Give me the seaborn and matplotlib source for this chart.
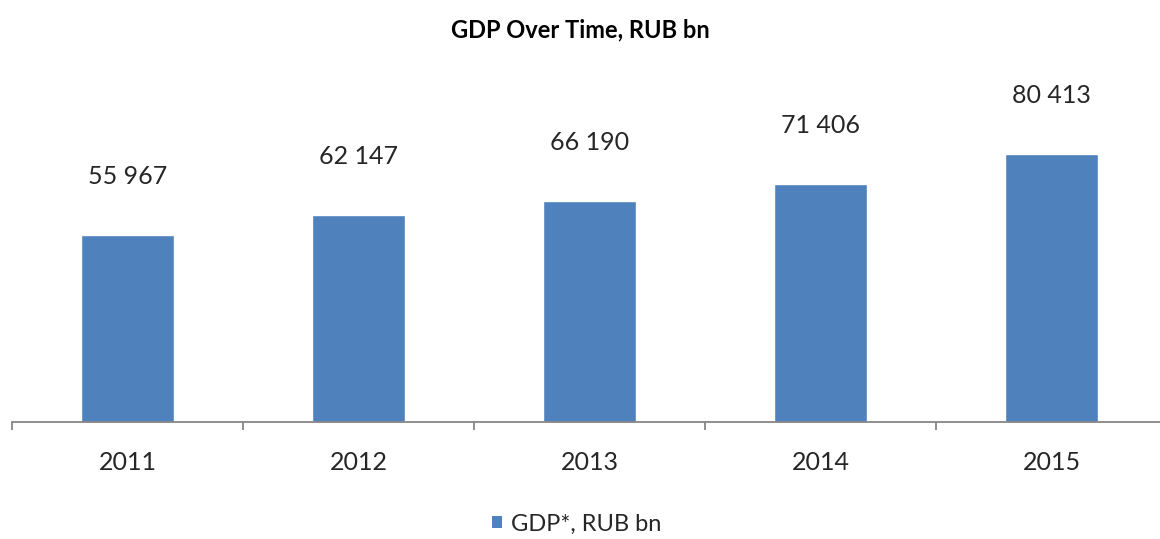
import numpy as np
import pandas as pd
import seaborn as sns
import matplotlib.pyplot as plt
from matplotlib.patches import Patch
from matplotlib.ticker import FixedLocator

# Data
years = ["2011", "2012", "2013", "2014", "2015"]
gdp = [55967, 62147, 66190, 71406, 80413]
series_name = "GDP*, RUB bn"
title = "GDP Over Time, RUB bn"

BAR_COLOR = "#4F81BD"
AXIS_COLOR = "#868686"
TEXT_COLOR = "#262626"

sns.set_theme(style="white")
plt.rcParams["font.family"] = ["Lato", "DejaVu Sans"]

W, H = 1160, 539
fig = plt.figure(figsize=(W / 100, H / 100), dpi=100)
ax = fig.add_axes([12 / W, 117 / H, 1148 / W, (422 - 61.5) / H])

df = pd.DataFrame({"Year": years, "GDP": gdp})
sns.barplot(data=df, x="Year", y="GDP", color=BAR_COLOR, width=0.4,
            saturation=1, ax=ax)

ax.set_xlim(-0.5, -0.5 + 1148 / 231)
ax.set_ylim(0, 108000)

# value labels above bars
for i, v in enumerate(gdp):
    ax.annotate(f"{v:,}".replace(",", " "), (i, v), xytext=(0, 42),
                textcoords="offset points", ha="center", va="center",
                fontsize=18, color=TEXT_COLOR, annotation_clip=False)

# axes styling
for side in ["left", "top", "right"]:
    ax.spines[side].set_visible(False)
ax.spines["bottom"].set_color(AXIS_COLOR)
ax.spines["bottom"].set_linewidth(1.3)
ax.set_yticks([])
ax.set_xlabel("")
ax.set_ylabel("")
ax.tick_params(axis="x", which="major", length=0, pad=21,
               labelsize=18, labelcolor=TEXT_COLOR)
ax.xaxis.set_minor_locator(FixedLocator(np.arange(-0.5, len(years), 1.0)))
ax.tick_params(axis="x", which="minor", length=6, width=1.3,
               color=AXIS_COLOR, direction="out", bottom=True)

fig.text(0.5, 1 - 30 / H, title, ha="center", va="center",
         fontsize=17, fontweight="bold", color="black")

handle = Patch(facecolor=BAR_COLOR, edgecolor="none")
fig.legend([handle], [series_name], loc="center", bbox_to_anchor=(0.497, 1 - 524 / H),
           frameon=False, fontsize=17, handlelength=0.42, handleheight=0.42,
           handletextpad=0.4, labelcolor=TEXT_COLOR)

fig.savefig("out.png", dpi=100)
